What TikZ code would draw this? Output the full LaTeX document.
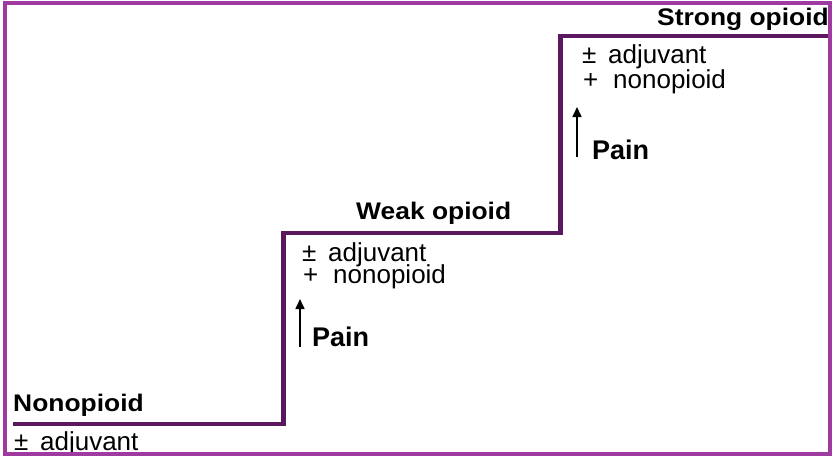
\documentclass[tikz,border=0pt]{standalone}
\usepackage{fontspec}
\setmainfont{Liberation Sans}
\newfontfamily\labfont[FakeStretch=1.1]{Liberation Sans Bold}
\newfontfamily\painfont{Liberation Sans Bold}
\usetikzlibrary{arrows.meta}
\definecolor{framepurple}{RGB}{158,58,160}
\definecolor{stairpurple}{RGB}{92,24,94}
\tikzset{
  steplabel/.style={anchor=base west, inner sep=0pt, font=\labfont\fontsize{24}{24}\selectfont},
  druglabel/.style={anchor=base west, inner sep=0pt, font=\fontsize{26}{26}\selectfont},
  painlabel/.style={anchor=base west, inner sep=0pt, font=\painfont\fontsize{27}{27}\selectfont},
  stairline/.style={draw=stairpurple, line width=4.5pt, line join=miter},
  painarrow/.style={draw=black, line width=1.6pt, -{Triangle[length=10pt,width=9pt]}},
  frameline/.style={draw=framepurple, line width=4pt}
}
\begin{document}
\begin{tikzpicture}[x=1pt,y=-1pt]
\useasboundingbox (0,0) rectangle (832,456);
\fill[white] (0,0) rectangle (832,456);
% staircase
\coordinate (s0) at (13,424);
\coordinate (s1) at (283.5,424);
\coordinate (s2) at (283.5,233);
\coordinate (s3) at (560.5,233);
\coordinate (s4) at (560.5,36);
\coordinate (s5) at (832,36);
\draw[stairline] (s0) -- (s1) -- (s2) -- (s3) -- (s4) -- (s5);
% step 1
\node[steplabel] (nonop) at (13,411.5) {Nonopioid};
\node[druglabel] (adj1) at (14,450) {±\hspace{0.45em}adjuvant};
% step 2
\node[steplabel] (weak) at (356,219.5) {Weak opioid};
\node[druglabel] (adj2) at (302,261) {±\hspace{0.45em}adjuvant};
\node[druglabel] (non2) at (303,283) {+\hspace{0.57em}nonopioid};
\coordinate (a2b) at (300,347);
\coordinate (a2t) at (300,299);
\draw[painarrow] (a2b) -- (a2t);
\node[painlabel] (pain2) at (312,346.5) {Pain};
% step 3
\node[steplabel] (strong) at (657,25) {Strong opioid};
\node[druglabel] (adj3) at (582,63) {±\hspace{0.45em}adjuvant};
\node[druglabel] (non3) at (583,88) {+\hspace{0.57em}nonopioid};
\coordinate (a3b) at (577,157);
\coordinate (a3t) at (577,107);
\draw[painarrow] (a3b) -- (a3t);
\node[painlabel] (pain3) at (592,159) {Pain};
% frame
\draw[frameline] (4.7,3) rectangle (830,453.5);
\end{tikzpicture}
\end{document}
